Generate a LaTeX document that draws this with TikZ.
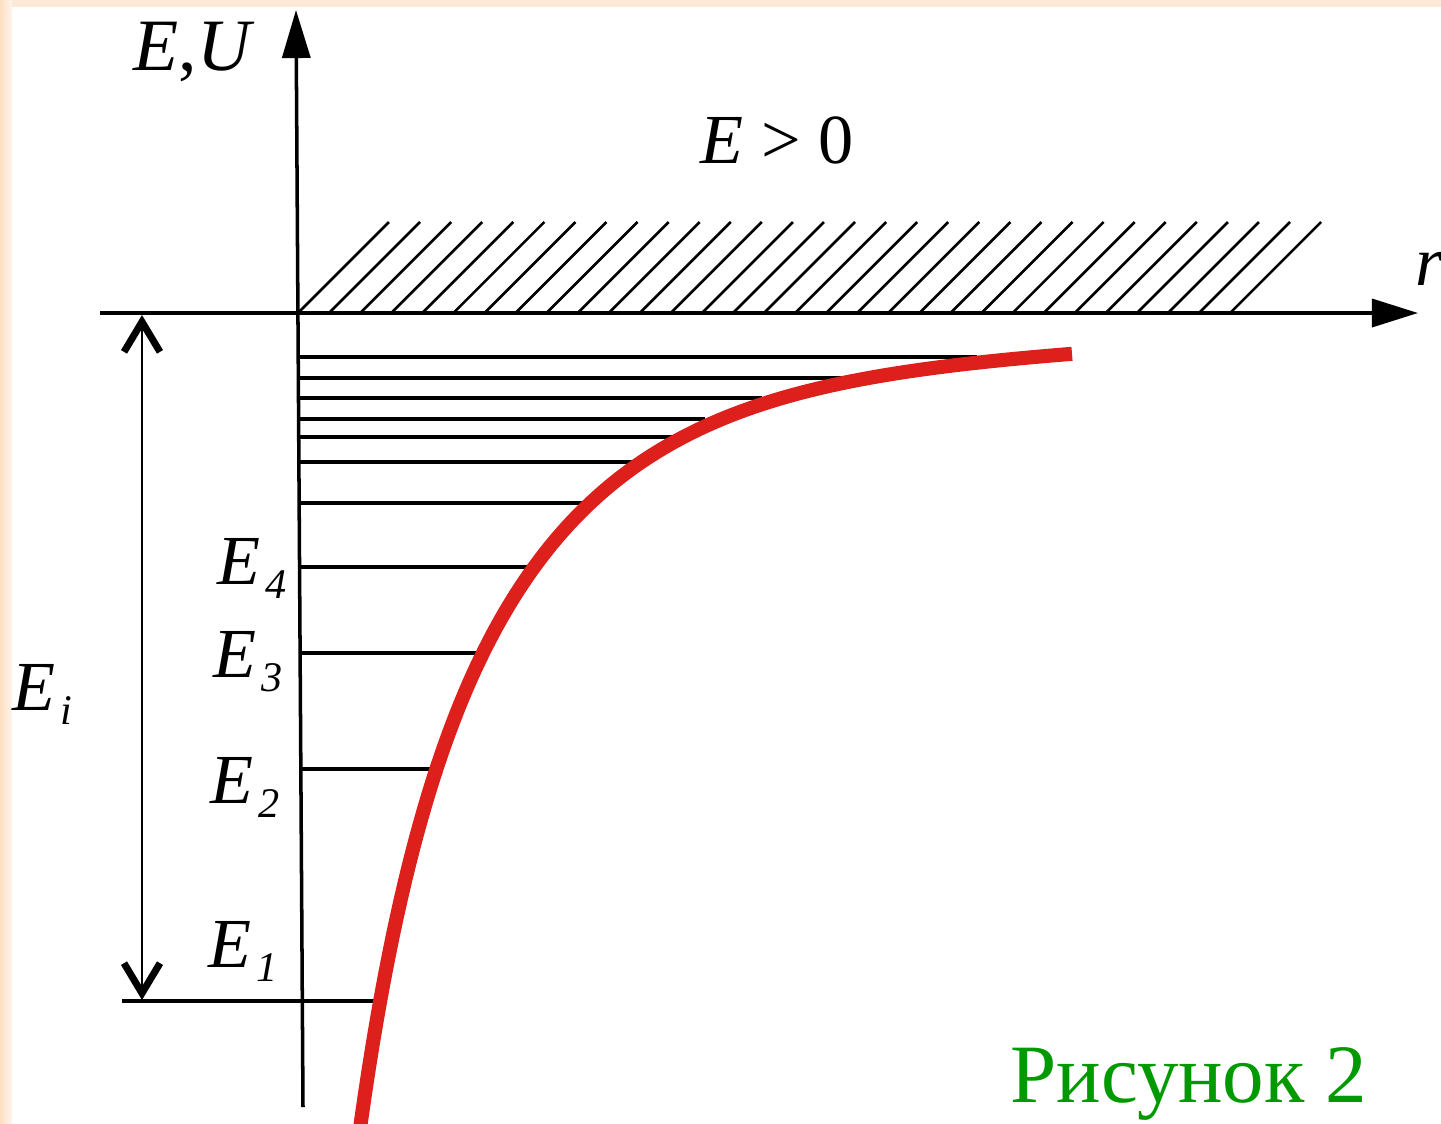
\documentclass[tikz,border=0pt]{standalone}
\usepackage{fontspec}
\setmainfont{Liberation Serif}
\usetikzlibrary{arrows.meta}
\definecolor{slidebg}{RGB}{252,233,214}
\definecolor{curvered}{RGB}{222,32,28}
\definecolor{capgreen}{RGB}{0,153,0}
\newcommand{\Elab}[1]{\textit{E}\kern1.5pt\raisebox{-4pt}{\fontsize{12}{12}\selectfont\textit{#1}}}
\begin{document}
\begin{tikzpicture}[x=0.01cm,y=-0.01cm,
  axisline/.style={line width=1pt},
  levelline/.style={line width=0.95pt},
  hatchline/.style={line width=0.75pt},
  lbl/.style={anchor=base west, inner sep=0pt, font=\fontsize{20}{24}\selectfont},
  barbtip/.tip={Straight Barb[length=3mm,width=3.6mm,line width=2pt]}]
\useasboundingbox (0,0) rectangle (1441,1123);
\fill[white] (0,0) rectangle (1441,1123);
\fill[slidebg] (0,0) rectangle (1441,7);
\shade[left color=slidebg!90!orange, right color=slidebg!40] (0,0) rectangle (12,1123);
% hatching
\foreach \i in {0,...,30}
  \draw[hatchline] ({298+31.07*\i},313) -- ++(91,-91);
% energy levels
\foreach \y/\e in {357/972, 378/840, 398/757, 419/700, 437/667, 462/628, 503/580, 567/525, 653/477, 769/428}
  \draw[levelline] ({296+7*(\y-10)/1097},\y) -- ({\e+5},\y);
\draw[levelline] (122,1001) -- (378,1001);
% axes
\draw[axisline,-{Triangle[length=4.8mm,width=2.8mm]}] (303,1107) -- (296,10);
\draw[axisline,-{Triangle[length=4.6mm,width=2.8mm]}] (100,313) -- (1418,313);
% Ei arrow
\draw[line width=0.75pt,barbtip-barbtip] (142,315) -- (142,1000);
% potential curve
\draw[curvered, line width=4pt] plot[domain=357:1072, samples=180]
  (\x, {313 + (1000/(38.1+0.172*(\x-380)-1.9*sin(0.5455*(\x-380))))^2});
% labels
\node[lbl] (lEU) at (133,70) {\fontsize{21}{24}\selectfont\textit{E},\textit{U}};
\node[lbl] (lEpos) at (700,163) {\textit{E} > 0};
\node[lbl] (lr) at (1415,285) {\textit{r}};
\node[lbl] (lE4) at (217,584) {\Elab{4}};
\node[lbl] (lE3) at (213,677) {\Elab{3}};
\node[lbl] (lE2) at (210,803) {\Elab{2}};
\node[lbl] (lE1) at (208,967) {\Elab{1}};
\node[lbl] (lEi) at (12,710) {\Elab{i}};
\node[anchor=base west, inner sep=0pt, text=capgreen, font=\fontsize{23.6}{28}\selectfont] (cap) at (1010,1102) {Рисунок 2};
\end{tikzpicture}
\end{document}
